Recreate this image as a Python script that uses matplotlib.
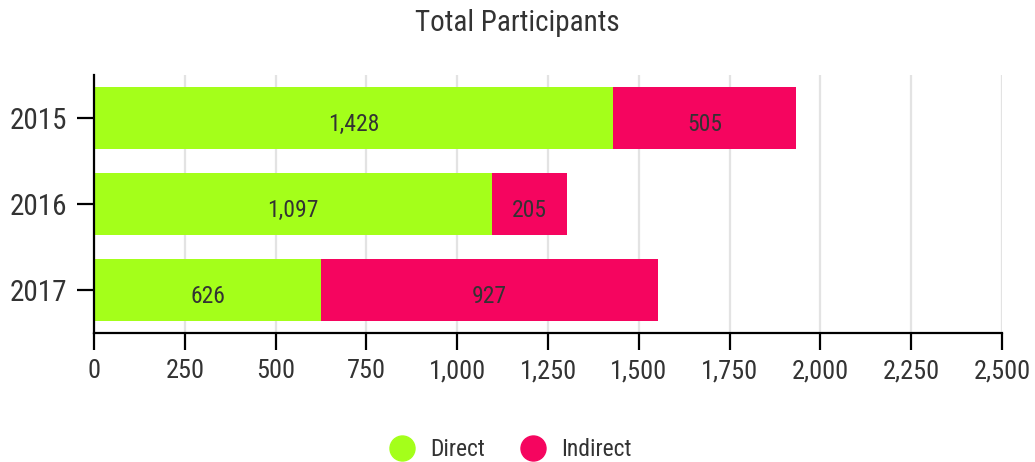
import matplotlib

matplotlib.use("Agg")
import matplotlib.pyplot as plt
from matplotlib.lines import Line2D
from matplotlib.ticker import FuncFormatter

plt.rcParams["font.family"] = ["Roboto Condensed", "Roboto", "DejaVu Sans"]

years = ["2015", "2016", "2017"]
direct = [1428, 1097, 626]
indirect = [505, 205, 927]
series_names = ["Direct", "Indirect"]
xticks = [0, 250, 500, 750, 1000, 1250, 1500, 1750, 2000, 2250, 2500]

GREEN = "#a4ff1a"
PINK = "#f5055f"
TEXT = "#333333"

fig = plt.figure(figsize=(10.35, 4.62), dpi=100)
ax = fig.add_axes([94 / 1035, 129 / 462, 908 / 1035, 258 / 462])

pos = list(range(len(years)))
ax.barh(pos, direct, height=0.72, color=GREEN, zorder=2)
ax.barh(pos, indirect, left=direct, height=0.72, color=PINK, zorder=2)

for i in pos:
    ax.text(direct[i] / 2, i + 0.07, f"{direct[i]:,}", ha="center", va="center",
            fontsize=17, color=TEXT, zorder=3)
    ax.text(direct[i] + indirect[i] / 2, i + 0.07, f"{indirect[i]:,}", ha="center",
            va="center", fontsize=17, color=TEXT, zorder=3)

ax.set_xlim(0, 2500)
ax.set_ylim(2.5, -0.5)
ax.set_xticks(xticks)
ax.xaxis.set_major_formatter(FuncFormatter(lambda v, _: f"{int(v):,}"))
ax.set_yticks(pos)
ax.set_yticklabels(years)
ax.grid(axis="x", color="#e3e3e3", linewidth=1.6, zorder=0)
ax.set_axisbelow(True)
for side in ("top", "right"):
    ax.spines[side].set_visible(False)
for side in ("left", "bottom"):
    ax.spines[side].set_linewidth(1.6)
ax.tick_params(axis="both", length=12, width=1.6, labelcolor=TEXT, pad=7)
ax.tick_params(axis="x", labelsize=19)
ax.tick_params(axis="y", labelsize=21)

fig.text(0.5, 0.95, "Total Participants", ha="center", va="center",
         fontsize=21, color=TEXT)

handles = [Line2D([], [], marker="o", linestyle="", markersize=18, color=c)
           for c in (GREEN, PINK)]
fig.legend(handles, series_names, loc="center", bbox_to_anchor=(0.488, 0.027),
           ncol=2, frameon=False, fontsize=17, labelcolor=TEXT,
           handletextpad=0.2, columnspacing=1.0)

fig.savefig("out.png", dpi=100)
